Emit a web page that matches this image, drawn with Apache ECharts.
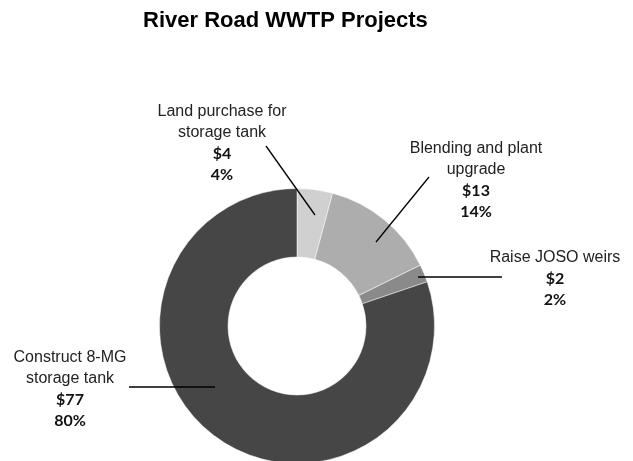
<!DOCTYPE html>
<html><head><meta charset="utf-8">
<script src="https://cdn.jsdelivr.net/npm/echarts@6/dist/echarts.min.js"></script>
<style>html,body{margin:0;padding:0;background:#fff}#c{width:633px;height:461px}</style>
</head><body><div id="c"></div>
<script>
const title = 'River Road WWTP Projects';
const categories = ['Land purchase for\nstorage tank', 'Blending and plant\nupgrade', 'Raise JOSO weirs', 'Construct 8-MG\nstorage tank'];
const values = [4, 13, 2, 77];
const colors = ['#d0d0d0', '#adadad', '#8a8a8a', '#464646'];

// label placement (layout only)
const CX = 297, CY = 326;
const labelPos = [
  {x: 222, y: 101, line: [[266, 146], [315, 215]]},
  {x: 476, y: 138, line: [[429, 177], [376, 242]]},
  {x: 555, y: 247, line: [[502, 277], [418, 277]]},
  {x: 70, y: 347, line: [[129, 387], [215, 387]]}
];

const total = values.reduce((a, b) => a + b, 0);
const pieData = categories.map((n, i) => ({name: n, value: values[i], itemStyle: {color: colors[i]}}));
const chart = echarts.init(document.getElementById('c'), null, {renderer: 'canvas'});
chart.setOption({
  backgroundColor: '#fff',
  animation: false,
  title: {
    text: title, left: 138, top: 5,
    textStyle: {fontFamily: 'Liberation Sans', fontSize: 22, fontWeight: 'bold', color: '#000'}
  },
  series: [{
    type: 'pie',
    z: 2,
    center: [CX, CY],
    radius: [69, 137.5],
    startAngle: 90,
    clockwise: true,
    itemStyle: {borderColor: '#fff', borderWidth: 0.5},
    label: {show: false},
    labelLine: {show: false},
    data: pieData
  }, {
    type: 'pie',
    z: 3,
    silent: true,
    center: [CX, CY],
    radius: [69, 137.5],
    startAngle: 90,
    clockwise: true,
    avoidLabelOverlap: false,
    itemStyle: {color: 'rgba(0,0,0,0)', borderWidth: 0},
    data: categories.map((n, i) => ({name: n, value: values[i]})),
    label: {
      show: true,
      position: 'outside',
      formatter: p => '{n|' + p.name.split('\n').join('}\n{n|') + '}\n{v|$' + p.value + '}\n{v|' + Math.round(p.value / total * 100) + '%}',
      rich: {
        n: {fontFamily: 'Liberation Sans', fontSize: 16, color: '#222', lineHeight: 21, align: 'center'},
        v: {fontFamily: 'Lato', fontSize: 16, fontWeight: 'bold', color: '#111', lineHeight: 21, align: 'center'}
      }
    },
    labelLine: {show: true, lineStyle: {color: '#000', width: 1.3}},
    labelLayout: function (p) {
      const lp = labelPos[p.dataIndex];
      return {
        x: lp.x, y: lp.y, align: 'center', verticalAlign: 'top',
        labelLinePoints: [lp.line[0], lp.line[0], lp.line[1]]
      };
    }
  }]
});
</script></body></html>
